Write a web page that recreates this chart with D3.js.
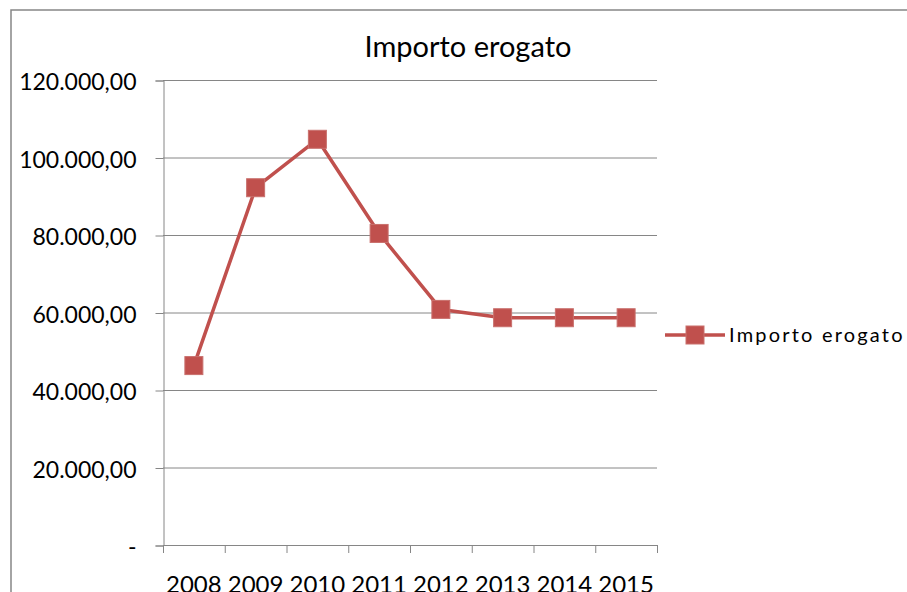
<html>
<head>
<script src="https://cdnjs.cloudflare.com/ajax/libs/d3/7.8.5/d3.min.js"></script>
<style>
  * { margin: 0; padding: 0; }
  body { background: #fff; overflow: hidden; }
  text { font-family: Lato, "Open Sans", sans-serif; fill: #000; }
</style>
</head>
<body>
<svg id="viz"></svg>
<script>
// data
var years = ["2008", "2009", "2010", "2011", "2012", "2013", "2014", "2015"];
var importo = [46300, 92200, 104700, 80400, 60800, 58650, 58650, 58650];
var yTicks = [0, 20000, 40000, 60000, 80000, 100000, 120000];
var seriesName = "Importo erogato";
var chartTitle = "Importo erogato";

var W = 907, H = 592;
var plotLeft = 163, plotRight = 657, plotTop = 80, plotBottom = 545;
var red = "#C0504D", grid = "#868686";

var svg = d3.select("#viz").attr("width", W).attr("height", H);

// outer chart border (runs off the right and bottom of the picture)
svg.append("rect")
    .attr("x", 11).attr("y", 10)
    .attr("width", 1000).attr("height", 1000)
    .style("fill", "none").style("stroke", grid).style("stroke-width", 1.5);

var x = d3.scaleBand().domain(years).range([plotLeft, plotRight]);
var y = d3.scaleLinear().domain([0, 120000]).range([plotBottom, plotTop]);

function fmt(v) {
    if (v == 0) return "-";
    return d3.format(",.2f")(v).replace(/,/g, "#").replace(/\./g, ",").replace(/#/g, ".");
}

// gridlines
svg.append("g").selectAll("line").data(yTicks).join("line")
    .attr("x1", plotLeft).attr("x2", plotRight)
    .attr("y1", d => y(d) + 0.5).attr("y2", d => y(d) + 0.5)
    .style("stroke", grid).style("stroke-width", 1);

// y axis
var yAxis = svg.append("g")
    .attr("transform", "translate(" + (plotLeft + 0.5) + ",0.5)")
    .call(d3.axisLeft(y).tickValues(yTicks).tickSize(8).tickPadding(19).tickFormat(fmt));
yAxis.select(".domain").style("stroke", grid);
yAxis.selectAll(".tick line").style("stroke", grid);
yAxis.selectAll(".tick text")
    .style("font-size", "23px").attr("dy", "0.4em")
    .style("font-family", "Lato, sans-serif");

// x axis
var xTicksPos = years.map(d => x(d)).concat([plotRight]);
var xg = svg.append("g");
xg.append("line")
    .attr("x1", plotLeft).attr("x2", plotRight)
    .attr("y1", plotBottom + 0.5).attr("y2", plotBottom + 0.5)
    .style("stroke", grid);
xg.selectAll("line.tk").data(xTicksPos).join("line")
    .attr("class", "tk")
    .attr("x1", d => d + 0.5).attr("x2", d => d + 0.5)
    .attr("y1", plotBottom).attr("y2", plotBottom + 8)
    .style("stroke", grid);
xg.selectAll("text").data(years).join("text")
    .attr("x", d => x(d) + x.bandwidth() / 2)
    .attr("y", 593)
    .attr("text-anchor", "middle")
    .style("font-size", "24px")
    .text(d => d);

// line
var line = d3.line()
    .x((d, i) => x(years[i]) + x.bandwidth() / 2)
    .y(d => y(d));
svg.append("path")
    .attr("d", line(importo))
    .style("fill", "none").style("stroke", red)
    .style("stroke-width", 3.5).style("stroke-linejoin", "round");

var ms = 18;
svg.append("g").selectAll("rect").data(importo).join("rect")
    .attr("x", (d, i) => x(years[i]) + x.bandwidth() / 2 - ms / 2)
    .attr("y", d => y(d) - ms / 2)
    .attr("width", ms).attr("height", ms)
    .style("fill", red).style("stroke", "#c9706d").style("stroke-width", 1);

// title
svg.append("text")
    .attr("x", 468).attr("y", 57)
    .attr("text-anchor", "middle")
    .style("font-size", "29px")
    .text(chartTitle);

// legend
var lg = svg.append("g");
lg.append("line")
    .attr("x1", 665).attr("x2", 725)
    .attr("y1", 335).attr("y2", 335)
    .style("stroke", red).style("stroke-width", 3.5);
lg.append("rect")
    .attr("x", 695 - ms / 2).attr("y", 335 - ms / 2)
    .attr("width", ms).attr("height", ms)
    .style("fill", red).style("stroke", "#c9706d");
lg.append("text")
    .attr("x", 729).attr("y", 342)
    .style("font-size", "20px")
    .style("letter-spacing", "2.2px")
    .text(seriesName);
</script>
</body>
</html>
